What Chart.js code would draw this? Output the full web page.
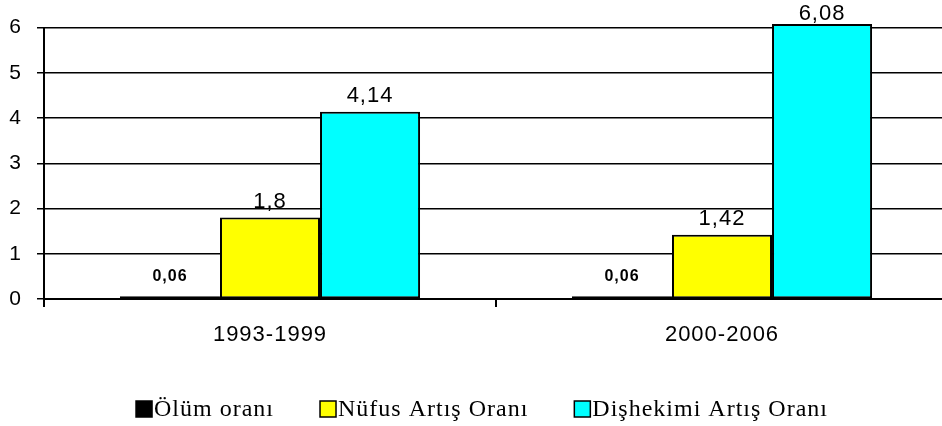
<!DOCTYPE html>
<html lang="tr">

<head>
    <meta charset="UTF-8">
    <title>Oranlar</title>
    <style>
        html,
        body {
            margin: 0;
            padding: 0;
            background: #fff;
            overflow: hidden;
        }

        #wrap {
            width: 948px;
            height: 426px;
        }
    </style>
    <script src="https://cdn.jsdelivr.net/npm/chart.js"></script>
</head>

<body>
    <div id="wrap"><canvas id="chart" width="948" height="426"></canvas></div>

    <script>
        // data
        const categories = ['1993-1999', '2000-2006'];
        const olumOrani = [0.06, 0.06];
        const nufusArtisOrani = [1.8, 1.42];
        const dishekimiArtisOrani = [4.14, 6.08];
        const seriesNames = ['Ölüm oranı', 'Nüfus Artış Oranı', 'Dişhekimi Artış Oranı'];
        const yMin = 0;
        const yMax = 6;
        const yStep = 1;

        const colors = ['#000000', '#FFFF00', '#00FFFF'];
        const sans = '"Liberation Sans", Arial, sans-serif';
        const serif = '"Liberation Serif", "Times New Roman", serif';

        // the reference text is a little spread out
        const spacing = {
            id: 'spacing',
            beforeDraw(chart) { chart.ctx.letterSpacing = '1px'; }
        };

        // value labels above each bar, comma as decimal mark
        const valueLabels = {
            id: 'valueLabels',
            afterDatasetsDraw(chart) {
                const ctx = chart.ctx;
                ctx.save();
                ctx.fillStyle = '#000';
                ctx.textAlign = 'center';
                ctx.textBaseline = 'alphabetic';
                chart.data.datasets.forEach((ds, i) => {
                    const small = i === 0;
                    ctx.font = small ? 'bold 16px ' + sans : '22px ' + sans;
                    chart.getDatasetMeta(i).data.forEach((bar, j) => {
                        let y = bar.y - (small ? 15 : 10);
                        y = Math.max(y, 20);
                        ctx.fillText(String(ds.data[j]).replace('.', ','), bar.x, y);
                    });
                });
                ctx.restore();
            }
        };

        // legend drawn under the axis, square swatch tight to the text
        const bottomLegend = {
            id: 'bottomLegend',
            afterDraw(chart) {
                const ctx = chart.ctx;
                const box = 16, gap = 2, itemGap = 46, cx = 482, cy = 409;
                ctx.save();
                ctx.font = '24px ' + serif;
                ctx.letterSpacing = '1px';
                const items = chart.data.datasets.map(ds => ({
                    label: ds.label,
                    color: ds.backgroundColor,
                    w: box + gap + ctx.measureText(ds.label).width
                }));
                const total = items.reduce((s, it) => s + it.w, 0) + itemGap * (items.length - 1);
                let x = cx - total / 2;
                items.forEach(it => {
                    ctx.fillStyle = it.color;
                    ctx.fillRect(x, cy - box / 2, box, box);
                    ctx.strokeStyle = '#000';
                    ctx.lineWidth = 1.5;
                    ctx.strokeRect(x, cy - box / 2, box, box);
                    ctx.fillStyle = '#000';
                    ctx.textBaseline = 'middle';
                    ctx.textAlign = 'left';
                    ctx.fillText(it.label, x + box + gap, cy + 1);
                    x += it.w + itemGap;
                });
                ctx.restore();
            }
        };

        const barStyle = {
            borderColor: '#000',
            borderWidth: 2,
            borderSkipped: false,
            categoryPercentage: 0.664,
            barPercentage: 1.0,
            clip: false
        };

        new Chart(document.getElementById('chart'), {
            type: 'bar',
            data: {
                labels: categories,
                datasets: [
                    { label: seriesNames[0], data: olumOrani, backgroundColor: colors[0], ...barStyle },
                    { label: seriesNames[1], data: nufusArtisOrani, backgroundColor: colors[1], ...barStyle },
                    { label: seriesNames[2], data: dishekimiArtisOrani, backgroundColor: colors[2], ...barStyle }
                ]
            },
            options: {
                responsive: false,
                animation: false,
                layout: { padding: { top: 25, left: 0, right: 0, bottom: 0 } },
                plugins: {
                    legend: { display: false },
                    tooltip: { enabled: false }
                },
                scales: {
                    x: {
                        grid: {
                            offset: true,
                            drawOnChartArea: false,
                            tickLength: 8,
                            color: '#000',
                            lineWidth: 2
                        },
                        border: { color: '#000', width: 2 },
                        ticks: {
                            color: '#000',
                            font: { family: sans, size: 22 },
                            padding: 15
                        },
                        afterFit(scale) { scale.height = 127; }
                    },
                    y: {
                        min: yMin,
                        max: yMax,
                        ticks: {
                            stepSize: yStep,
                            color: '#000',
                            font: { family: sans, size: 21 },
                            padding: 15
                        },
                        grid: { color: '#000', lineWidth: 1.5, tickLength: 7 },
                        border: { color: '#000', width: 2 },
                        afterFit(scale) { scale.width = 44; }
                    }
                }
            },
            plugins: [spacing, valueLabels, bottomLegend]
        });
    </script>
</body>

</html>
